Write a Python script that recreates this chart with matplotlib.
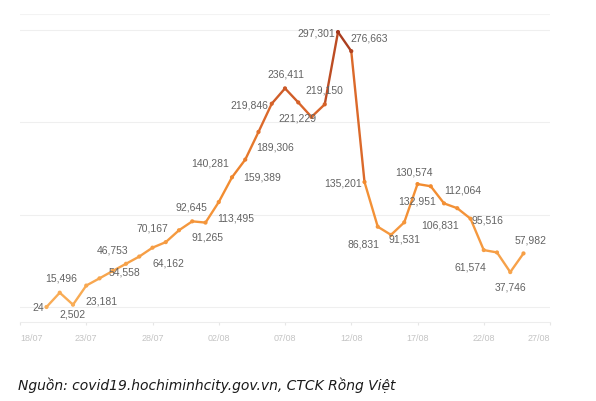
import numpy as np
import pandas as pd
import matplotlib
matplotlib.use("Agg")
import matplotlib.pyplot as plt
from matplotlib.collections import LineCollection
from matplotlib.colors import LinearSegmentedColormap

# data (daily values 20/07 - 25/08)
dates = pd.date_range("2021-07-20", "2021-08-25")
values = [24, 15496, 2502, 23181, 31000, 39000, 46753, 54558, 64162, 70167,
          83000, 92645, 91265, 113495, 140281, 159389, 189306, 219846, 236411,
          221229, 205500, 219150, 297301, 276663, 135201, 86831, 78000, 91531,
          132951, 130574, 112064, 106831, 95516, 61574, 59000, 37746, 57982]
# which points carry a label
labelled = [True, True, True, True, False, False, True, True, True, True,
            False, True, True, True, True, True, True, True, True,
            True, False, True, True, True, True, True, False, True,
            True, True, True, True, True, True, False, True, True]
tick_labels = ["18/07", "23/07", "28/07", "02/08", "07/08",
               "12/08", "17/08", "22/08", "27/08"]
source = "Nguồn: covid19.hochiminhcity.gov.vn, CTCK Rồng Việt"

# label offsets in pixels (dx, dy), dy positive = down
offsets = [(-9, 0), (1, -15), (0, 9), (15, 15), None, None, (-13, -14), (-15, 15),
           (16, 15), (-13, -15), None, (-1, -15), (2, 14), (17, 15), (-18, -15),
           (17, 17), (17, 15), (-20, 1), (1, -15), (-1, 15), None, (0, -15),
           (-20, 0), (18, -14), (-21, 1), (-14, 17), None, (0, 16), (0, 16),
           (-17, -15), (19, -14), (-17, 16), (17, 1), (-13, 16), None, (0, 14),
           (7, -14)]

start = pd.Timestamp("2021-07-18")
x = np.array((dates - start).days, dtype=float)
y = np.array(values, dtype=float)

label_font = ["Liberation Sans", "DejaVu Sans"]
cmap = LinearSegmentedColormap.from_list(
    "covid", [(0, "#F9AE58"), (0.45, "#F28A2E"), (0.72, "#D8642A"), (1, "#A3371D")])

fig = plt.figure(figsize=(5.96, 4.02), dpi=100)
ax = fig.add_axes([20/596, 79/402, 530/596, 308/402])

for g in [0, 100000, 200000, 300000]:
    ax.axhline(g, color="#EFEFEF", lw=0.8, zorder=0)
ax.axhline(316800, color="#F3F3F3", lw=0.8, zorder=0)

pts = np.column_stack([x, y])
segs = np.stack([pts[:-1], pts[1:]], axis=1)
lc = LineCollection(segs, cmap=cmap, norm=plt.Normalize(0, 300000),
                    linewidths=1.7, capstyle="round", joinstyle="round", zorder=2)
lc.set_array((y[:-1] + y[1:]) / 2)
ax.add_collection(lc)
ax.scatter(x, y, c=y, cmap=cmap, vmin=0, vmax=300000, s=9, zorder=3,
           linewidths=0)

for xi, yi, v, show, off in zip(x, y, values, labelled, offsets):
    if not show:
        continue
    dx, dy = off
    ha = "center"
    if dx <= -18:
        ha = "right"
        dx = -3
    elif dx == -9:
        ha = "right"
        dx = -2
    ax.annotate(f"{v:,}", (xi, yi), xytext=(dx, -dy), textcoords="offset pixels",
                ha=ha, va="center", fontsize=7.5, color="#626262",
                family=label_font, zorder=4)

ax.set_xlim(0, 40)
ax.set_ylim(-16200, 316800)
ax.set_xticks(np.arange(0, 41, 5))
ax.set_xticklabels(tick_labels, fontsize=6.5, color="#C4C4C4", family=label_font)
tl = ax.get_xticklabels()
tl[0].set_ha("left")
tl[-1].set_ha("right")
ax.tick_params(axis="x", length=2, color="#E6E6E6", pad=6)
ax.set_yticks([])
for s in ["top", "right", "left"]:
    ax.spines[s].set_visible(False)
ax.spines["bottom"].set_color("#EDEDED")
ax.spines["bottom"].set_linewidth(0.8)

fig.text(18/596, 1 - 385/402, source, fontsize=10, style="italic",
         color="#1A1A1A", va="center", ha="left",
         family=["Liberation Sans Narrow", "DejaVu Sans"])

fig.savefig("out.png", dpi=100)
